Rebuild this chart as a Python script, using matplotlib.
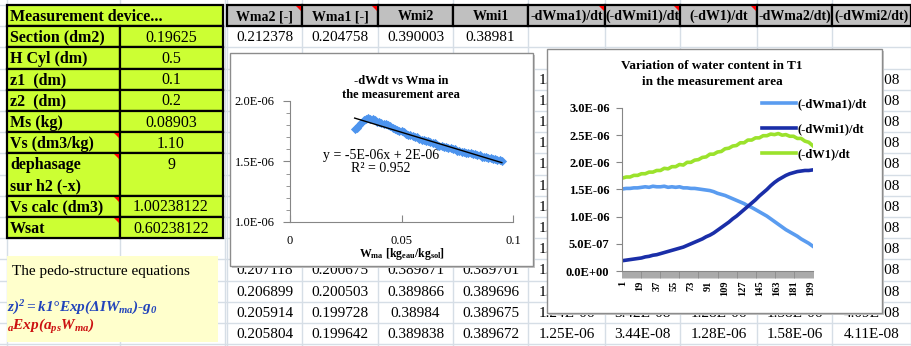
import matplotlib
matplotlib.use("Agg")
import matplotlib.pyplot as plt
from matplotlib.patches import Rectangle, Polygon
from matplotlib.ticker import MultipleLocator
import numpy as np

plt.rcParams['font.family'] = 'Liberation Serif'
plt.rcParams['mathtext.fontset'] = 'custom'
plt.rcParams['mathtext.rm'] = 'Liberation Serif:bold:italic'
plt.rcParams['mathtext.it'] = 'Liberation Serif:bold:italic'
plt.rcParams['mathtext.bf'] = 'Liberation Serif:bold'

W, H = 911, 346

# --- sheet content ---
device_labels = ["Section (dm2)", "H Cyl (dm)", "z1  (dm)", "z2  (dm)", "Ms (kg)",
                 "Vs (dm3/kg)", "dephasage", "Vs calc (dm3)", "Wsat"]
device_values = ["0.19625", "0.5", "0.1", "0.2", "0.08903", "1.10", "9",
                 "1.00238122", "0.60238122"]

col_headers = ["Wma2 [-]", "Wma1 [-]", "Wmi2", "Wmi1", "-dWma1)/dt",
               "(-dWmi1)/dt", "(-dW1)/dt", "-dWma2/dt)", "(-dWmi2/dt)"]
col_edges = [227, 302, 378, 453, 528, 605, 680, 757, 832, 911]

first_line = [0.212378, 0.204758, 0.390003, 0.38981]
wma2_end = [0.207118, 0.206899, 0.205914, 0.205804]
wma1_end = [0.200675, 0.200503, 0.199728, 0.199642]
wmi2_end = [0.389871, 0.389866, 0.38984, 0.389838]
wmi1_end = [0.389701, 0.389696, 0.389675, 0.389672]
dwma1_col = [1.52e-6, 1.53e-6, 1.53e-6, 1.54e-6, 1.54e-6, 1.55e-6, 1.54e-6,
             1.53e-6, 1.51e-6, 1.45e-6, 1.36e-6, 1.24e-6, 1.25e-6]
dwmi1_end = [3.42e-8, 3.44e-8]
dw1_end = [1.28e-6, 1.28e-6]
dwma2_end = [1.58e-6, 1.58e-6]
dwmi2_col = [3.88e-8, 3.90e-8, 3.92e-8, 3.93e-8, 3.95e-8, 3.97e-8, 3.98e-8,
             4.00e-8, 4.02e-8, 4.04e-8, 4.06e-8, 4.09e-8, 4.11e-8]

# --- -dWdt vs Wma (1e-6 units) ---
w_ma = [0.029, 0.030, 0.031, 0.032, 0.033, 0.034, 0.035, 0.036, 0.037, 0.038,
        0.039, 0.040, 0.041, 0.042, 0.043, 0.044, 0.045, 0.046, 0.047, 0.048,
        0.049, 0.050, 0.051, 0.052, 0.053, 0.054, 0.055, 0.056, 0.057, 0.058,
        0.059, 0.060, 0.061, 0.062, 0.063, 0.064, 0.065, 0.066, 0.067, 0.068,
        0.069, 0.070, 0.071, 0.072, 0.073, 0.074, 0.075, 0.076, 0.077, 0.078,
        0.079, 0.080, 0.081, 0.082, 0.083, 0.084, 0.085, 0.086, 0.087, 0.088,
        0.089, 0.090, 0.091, 0.092, 0.093, 0.094, 0.095]
rate_ma = [1.77, 1.78, 1.80, 1.82, 1.84, 1.85, 1.86, 1.85, 1.85, 1.84,
           1.83, 1.83, 1.82, 1.81, 1.81, 1.80, 1.79, 1.78, 1.77, 1.76,
           1.75, 1.75, 1.74, 1.73, 1.72, 1.72, 1.71, 1.70, 1.70, 1.69,
           1.68, 1.68, 1.67, 1.67, 1.66, 1.65, 1.65, 1.64, 1.63, 1.63,
           1.62, 1.62, 1.61, 1.61, 1.60, 1.60, 1.59, 1.59, 1.58, 1.58,
           1.57, 1.57, 1.57, 1.56, 1.56, 1.55, 1.55, 1.54, 1.54, 1.54,
           1.53, 1.53, 1.52, 1.52, 1.51, 1.51, 1.50]

# --- water content variation in T1 (1e-6 units), every 4th step ---
steps = list(range(1, 202, 4))
dwma1 = [1.51, 1.52, 1.52, 1.53, 1.53, 1.54, 1.55, 1.54, 1.56, 1.55,
         1.55, 1.56, 1.54, 1.55, 1.54, 1.55, 1.53, 1.53, 1.52, 1.52,
         1.51, 1.50, 1.49, 1.48, 1.46, 1.43, 1.41, 1.39, 1.36, 1.33,
         1.30, 1.27, 1.24, 1.20, 1.17, 1.13, 1.09, 1.05, 1.01, 0.96,
         0.91, 0.86, 0.81, 0.76, 0.72, 0.68, 0.64, 0.59, 0.55, 0.51, 0.46]
dwmi1 = [0.19, 0.20, 0.21, 0.22, 0.23, 0.24, 0.26, 0.27, 0.29, 0.30,
         0.32, 0.34, 0.36, 0.38, 0.40, 0.42, 0.44, 0.47, 0.50, 0.53,
         0.56, 0.59, 0.63, 0.66, 0.70, 0.75, 0.80, 0.85, 0.90, 0.96,
         1.01, 1.07, 1.13, 1.19, 1.25, 1.31, 1.38, 1.44, 1.50, 1.57,
         1.63, 1.68, 1.72, 1.76, 1.79, 1.81, 1.83, 1.84, 1.85, 1.85, 1.86]
dw1 = [1.71, 1.73, 1.73, 1.76, 1.76, 1.79, 1.79, 1.82, 1.82, 1.85,
       1.85, 1.89, 1.88, 1.92, 1.92, 1.96, 1.95, 2.00, 2.00, 2.04,
       2.05, 2.09, 2.10, 2.15, 2.15, 2.19, 2.20, 2.25, 2.26, 2.30,
       2.31, 2.36, 2.36, 2.41, 2.41, 2.45, 2.45, 2.49, 2.49, 2.52,
       2.51, 2.53, 2.50, 2.51, 2.48, 2.48, 2.44, 2.44, 2.39, 2.37, 2.31]
n_steps = 201

GREEN = '#ccff33'
GREY = '#c0c0c0'
GRID = '#d6dee6'
AXIS = '#868686'
FRAMES = [(230, 53, 533, 266), (547, 49, 882, 313)]


def row_top(k):
    return 5 + 21.2 * k


def box(x0, y0, x1, y1):
    return [x0 / W, 1 - y1 / H, (x1 - x0) / W, (y1 - y0) / H]


def red_mark(x, y):
    bg.add_patch(Polygon([(x - 5, y), (x, y), (x, y + 5)], closed=True,
                         facecolor='red', edgecolor='none', zorder=4))


fig = plt.figure(figsize=(W / 100, H / 100), dpi=100)
bg = fig.add_axes([0, 0, 1, 1])
bg.set_xlim(0, W)
bg.set_ylim(H, 0)
bg.axis('off')

# sheet gridlines
for k in range(17):
    bg.plot([0, W], [row_top(k)] * 2, color=GRID, lw=1, zorder=1)
for x in [7, 120, 225] + col_edges:
    bg.plot([x, x], [0, H], color=GRID, lw=1, zorder=1)

# measuring device block
bg.add_patch(Rectangle((7, row_top(0)), 216, 21.2, facecolor=GREEN,
                       edgecolor='black', lw=1.6, zorder=2))
bg.text(10, row_top(0.5) + 1, "Measurement device...", fontsize=11.5,
        fontweight='bold', va='center', zorder=3)
spans = [(1, 2), (2, 3), (3, 4), (4, 5), (5, 6), (6, 7), (7, 9), (9, 10), (10, 11)]
for (k0, k1), lab, val in zip(spans, device_labels, device_values):
    for x0, x1 in [(7, 120), (120, 223)]:
        bg.add_patch(Rectangle((x0, row_top(k0)), x1 - x0, row_top(k1) - row_top(k0),
                               facecolor=GREEN, edgecolor='black', lw=1.6, zorder=2))
    bg.text(10, row_top(k0 + 0.5) + 1, lab, fontsize=11.5, fontweight='bold',
            va='center', zorder=3)
    bg.text(171, row_top(k0 + 0.5) + 1, val, fontsize=11.5, ha='center',
            va='center', zorder=3)
    if lab in ("Vs (dm3/kg)", "dephasage", "Vs calc (dm3)", "Wsat"):
        red_mark(119, row_top(k0) + 1)
bg.text(10, row_top(8.5) + 1, "sur h2 (-x)", fontsize=11.5, fontweight='bold',
        va='center', zorder=3)

# column headers
for i, name in enumerate(col_headers):
    x0, x1 = col_edges[i], col_edges[i + 1]
    bg.add_patch(Rectangle((x0, row_top(0)), x1 - x0, 21.2, facecolor=GREY,
                           edgecolor='black', lw=1.6, zorder=2))
    bg.text((x0 + x1) / 2, row_top(0.5) + 1, name, fontsize=10, fontweight='bold',
            ha='center', va='center', zorder=3)
    if i in (0, 1, 4, 5, 6):
        red_mark(x1 - 1, row_top(0) + 1)


def put(col, k, s):
    x0, x1 = col_edges[col], col_edges[col + 1]
    cx, cy = (x0 + x1) / 2, row_top(k + 0.5)
    t = bg.text(cx, cy + 1, s, fontsize=11, ha='center', va='center', zorder=3)
    # cells sitting under a chart only show what lies outside its frame
    for fx0, fy0, fx1, fy1 in FRAMES:
        if fy0 <= cy + 6 and cy - 6 <= fy1 and x0 < fx1 and x1 > fx0:
            if fx0 <= cx <= fx1:
                clip = Rectangle((0, fy1), W, H - fy1, transform=bg.transData)
            elif cx < fx0:
                clip = Rectangle((0, 0), fx0, H, transform=bg.transData)
            else:
                clip = Rectangle((fx1, 0), W - fx1, H, transform=bg.transData)
            t.set_clip_path(clip)


for c, v in enumerate(first_line):
    put(c, 1, f"{v:g}")
for c, col in enumerate([wma2_end, wma1_end, wmi2_end, wmi1_end]):
    for j, v in enumerate(col):
        put(c, 12 + j, f"{v:g}")
for j, v in enumerate(dwma1_col):
    put(4, 3 + j, f"{v:.2E}")
for j, v in enumerate(dwmi2_col):
    put(8, 3 + j, f"{v:.2E}")
for c, col in zip([5, 6, 7], [dwmi1_end, dw1_end, dwma2_end]):
    for j, v in enumerate(col):
        put(c, 14 + j, f"{v:.2E}")

# pedo-structure note
bg.add_patch(Rectangle((7, 256), 211, 86, facecolor='#ffffcc', edgecolor='none', zorder=4))
bg.text(12, 271, "The pedo-structure equations", fontsize=11, va='center', zorder=5)
bg.text(7, 308, r"$z)^2=k1°Exp(\Delta IW_{ma})$-$g_0$", fontsize=11, color='#2244bb',
        va='center', zorder=5, fontweight='bold', style='italic')
bg.text(7, 327, r"${}_aExp(a_{ps}W_{ma})$", fontsize=11, color='#cc1111',
        va='center', zorder=5)

# chart frames
for x0, y0, x1, y1 in FRAMES:
    bg.add_patch(Rectangle((x0 + 2, y0 + 2), x1 - x0, y1 - y0, facecolor='#c8c8c8',
                           edgecolor='none', zorder=5))
    bg.add_patch(Rectangle((x0, y0), x1 - x0, y1 - y0, facecolor='white',
                           edgecolor='#8c8c8c', lw=1, zorder=6))

# ---- -dWdt vs Wma ----
bg.text(401, 88, "-dWdt vs Wma in\nthe measurement area", fontsize=9,
        fontweight='bold', ha='center', va='center', linespacing=1.25, zorder=7)
bg.text(402, 254, r"$\mathbf{W_{ma}\ [kg_{eau}/kg_{sol}]}$", fontsize=8.5,
        ha='center', va='center', zorder=7)
bg.text(381, 162, "y = -5E-06x + 2E-06\nR² = 0.952", fontsize=10, ha='center',
        va='center', linespacing=1.0, zorder=7)

rate = np.array(rate_ma) * 1e-6
ax1 = fig.add_axes(box(290, 101, 513, 222))
ax1.set_facecolor('none')
ax1.scatter(w_ma, rate, s=22, marker='D', color='#4d94ee', linewidths=0, zorder=3)
slope, icpt = np.polyfit(w_ma, rate, 1)
xs = np.array([w_ma[0], w_ma[-1]])
ax1.plot(xs, slope * xs + icpt, color='black', lw=1, zorder=4)
ax1.set_xlim(0, 0.1)
ax1.set_ylim(1.0e-6, 2.0e-6)
ax1.set_xticks([0, 0.05, 0.1])
ax1.set_xticklabels(['0', '0.05', '0.1'])
ax1.set_yticks([1.0e-6, 1.5e-6, 2.0e-6])
ax1.set_yticklabels([f"{v:.1E}" for v in [1.0e-6, 1.5e-6, 2.0e-6]])
ax1.yaxis.set_minor_locator(MultipleLocator(1e-7))
for s in ['top', 'right']:
    ax1.spines[s].set_visible(False)
for s in ['left', 'bottom']:
    ax1.spines[s].set_color(AXIS)
ax1.tick_params(axis='y', which='major', direction='out', length=5, color=AXIS,
                labelsize=9, pad=6)
ax1.tick_params(axis='y', which='minor', direction='out', length=3, color=AXIS)
ax1.tick_params(axis='x', direction='in', length=5, color=AXIS, labelsize=9, pad=9)

# ---- water content variation ----
bg.text(712, 74, "Variation of water content in T1\nin the measurement area",
        fontsize=9.5, fontweight='bold', ha='center', va='center',
        linespacing=1.35, zorder=7)

ax2 = fig.add_axes(box(622, 108, 813, 271))
ax2.set_facecolor('none')
l1, = ax2.plot(steps, np.array(dwma1) * 1e-6, color='#5a9cf0', lw=2.6)
l2, = ax2.plot(steps, np.array(dwmi1) * 1e-6, color='#1a2ea8', lw=2.6)
l3, = ax2.plot(steps, np.array(dw1) * 1e-6, color='#9be22c', lw=2.6)
ax2.set_xlim(0.5, n_steps + 0.5)
ax2.set_ylim(0, 3.0e-6)
yt = [0, 0.5e-6, 1.0e-6, 1.5e-6, 2.0e-6, 2.5e-6, 3.0e-6]
ax2.set_yticks(yt)
ax2.set_yticklabels([f"{v:.1E}" for v in yt], fontweight='bold')
cats = list(range(1, n_steps + 1))
ax2.set_xticks(cats)
ax2.set_xticklabels([str(c) if (c - 1) % 18 == 0 else '' for c in cats],
                    rotation=90, fontweight='bold', fontsize=7.5)
for s in ['top', 'right']:
    ax2.spines[s].set_visible(False)
for s in ['left', 'bottom']:
    ax2.spines[s].set_color(AXIS)
ax2.tick_params(axis='y', direction='out', length=4, color=AXIS, labelsize=9, pad=5)
ax2.tick_params(axis='x', direction='out', length=5, width=0.5, color=AXIS, pad=2)
ax2.legend([l1, l2, l3], ["(-dWma1)/dt", "(-dWmi1)/dt", "(-dW1)/dt"],
           loc='upper left', bbox_to_anchor=(762, 98), bbox_transform=bg.transData,
           frameon=False, borderpad=0, borderaxespad=0, handlelength=2.7,
           handletextpad=0.15, labelspacing=1.05, prop={'weight': 'bold', 'size': 9})

fig.savefig('out.png', dpi=100)
